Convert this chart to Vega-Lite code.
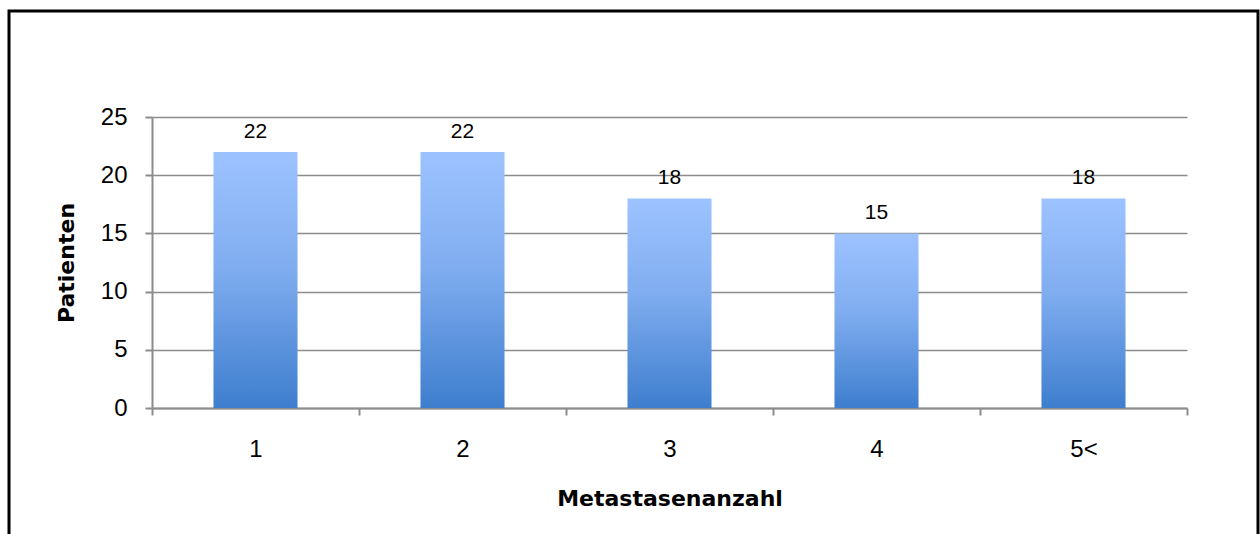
{
  "$schema": "https://vega.github.io/schema/vega-lite/v6.json",
  "width": 1249,
  "height": 530,
  "autosize": {"type": "none"},
  "padding": {"left": 9, "top": 11, "right": 2, "bottom": 0},
  "background": "white",
  "config": {
    "font": "Liberation Sans",
    "view": {"stroke": "#000000", "strokeWidth": 3}
  },
  "data": {
    "values": [
      {"anzahl": "1", "patienten": 22},
      {"anzahl": "2", "patienten": 22},
      {"anzahl": "3", "patienten": 18},
      {"anzahl": "4", "patienten": 15},
      {"anzahl": "5<", "patienten": 18}
    ]
  },
  "encoding": {
    "x": {
      "field": "anzahl",
      "type": "ordinal",
      "sort": null,
      "scale": {"range": [143, 1178], "paddingInner": 0, "paddingOuter": 0},
      "axis": {
        "orient": "bottom",
        "offset": -133,
        "tickBand": "extent",
        "grid": false,
        "labelAngle": 0,
        "labelFontSize": 24,
        "labelColor": "#000000",
        "labelPadding": 22,
        "domainColor": "#8c8c8c",
        "domainWidth": 2,
        "tickColor": "#8c8c8c",
        "tickWidth": 2,
        "tickSize": 7,
        "title": "Metastasenanzahl",
        "titleFont": "DejaVu Sans",
        "titleFontSize": 22,
        "titleFontWeight": "bold",
        "titleColor": "#000000",
        "titlePadding": 27
      }
    },
    "y": {
      "field": "patienten",
      "type": "quantitative",
      "scale": {"domain": [0, 25], "range": [397, 106], "nice": false},
      "axis": {
        "orient": "left",
        "offset": -143,
        "values": [0, 5, 10, 15, 20, 25],
        "grid": true,
        "gridColor": "#8c8c8c",
        "gridWidth": 1.5,
        "domainColor": "#8c8c8c",
        "domainWidth": 2,
        "tickColor": "#8c8c8c",
        "tickWidth": 2,
        "tickSize": 7,
        "labelFontSize": 24,
        "labelColor": "#000000",
        "labelPadding": 18,
        "title": "Patienten",
        "titleFont": "DejaVu Sans",
        "titleFontSize": 22,
        "titleFontWeight": "bold",
        "titleColor": "#000000",
        "titlePadding": 22
      }
    }
  },
  "layer": [
    {
      "mark": {
        "type": "bar",
        "width": {"band": 0.406},
        "color": {
          "gradient": "linear",
          "x1": 0, "y1": 0, "x2": 0, "y2": 1,
          "stops": [
            {"offset": 0, "color": "#9DC3FF"},
            {"offset": 0.45, "color": "#80ADF0"},
            {"offset": 1, "color": "#3E7ECE"}
          ]
        }
      }
    },
    {
      "mark": {"type": "text", "baseline": "alphabetic", "dy": -14, "fontSize": 21, "color": "#000000"},
      "encoding": {"text": {"field": "patienten", "type": "quantitative"}}
    }
  ]
}
